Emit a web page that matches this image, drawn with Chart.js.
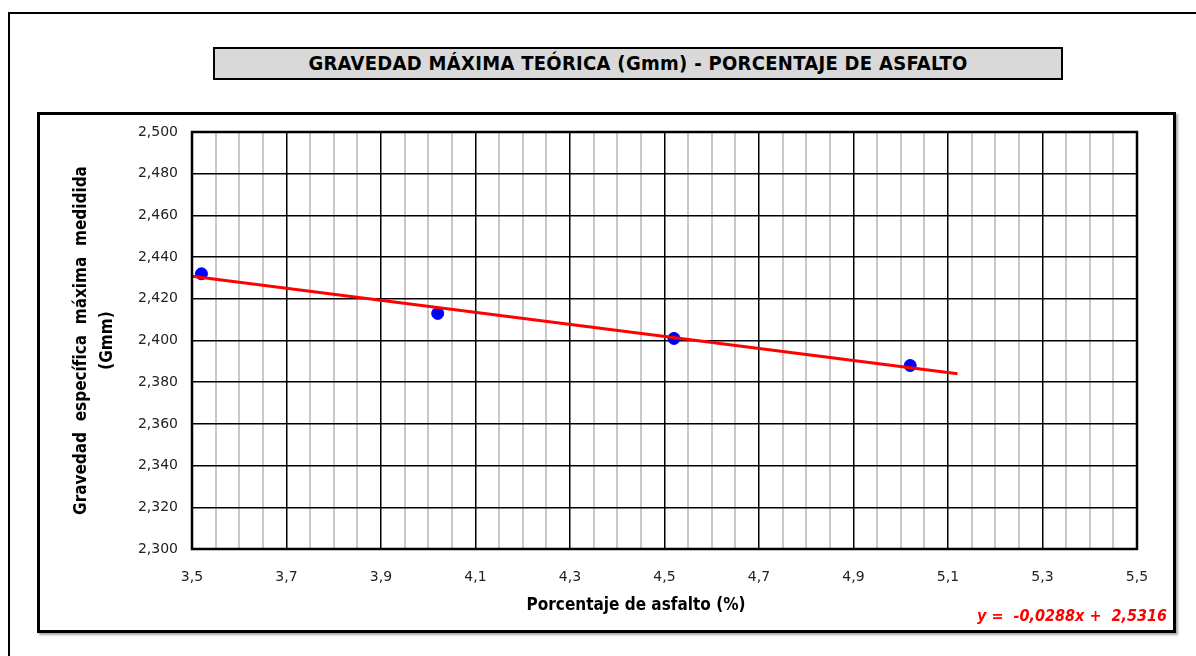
<!DOCTYPE html>
<html lang="es">
<head>
    <meta charset="UTF-8">
    <title>Gmm - Porcentaje de asfalto</title>
    <style>
        body {
            margin: 0;
            background: #fff;
            font-family: 'DejaVu Sans Condensed', 'DejaVu Sans', sans-serif;
        }
        #page {
            position: relative;
            width: 1196px;
            height: 656px;
            overflow: hidden;
        }
        .outer {
            position: absolute;
            left: 8px;
            top: 12px;
            width: 1300px;
            height: 800px;
            border: 2px solid #000;
        }
        .inner {
            position: absolute;
            left: 37px;
            top: 112px;
            width: 1133px;
            height: 515px;
            border: 3px solid #000;
            box-shadow: 2px 2px 2px #aaa;
        }
        .title-box {
            position: absolute;
            left: 213px;
            top: 47px;
            width: 846px;
            height: 29px;
            background: #d9d9d9;
            border: 2px solid #000;
            text-align: center;
            line-height: 29px;
            font-weight: bold;
            font-size: 20px;
            letter-spacing: 0.3px;
            color: #000;
        }
        .x-title {
            position: absolute;
            left: 436px;
            width: 400px;
            top: 594px;
            text-align: center;
            font-weight: bold;
            font-size: 17px;
        }
        .equation {
            position: absolute;
            right: 29px;
            top: 606px;
            color: #ff0000;
            font-weight: bold;
            font-style: italic;
            font-size: 16px;
        }
        canvas {
            position: absolute;
            left: 0;
            top: 0;
        }
    </style>
</head>
<body>
<div id="page">
    <div class="outer"></div>
    <div class="inner"></div>
    <div class="title-box">GRAVEDAD MÁXIMA TEÓRICA (Gmm) - PORCENTAJE DE ASFALTO</div>
    <canvas id="gmmChart" width="1196" height="656"></canvas>
    <div class="x-title">Porcentaje de asfalto (%)</div>
    <div class="equation">y = &nbsp;-0,0288x + &nbsp;2,5316</div>
</div>

<script src="https://cdn.jsdelivr.net/npm/chart.js"></script>
<script>
    // datos
    const asfalto = [3.52, 4.02, 4.52, 5.02];
    const gmm = [2.432, 2.413, 2.401, 2.388];

    // linea de tendencia (extremos)
    const trendX = [3.5, 5.12];
    const trendY = [2.4308, 2.3841];

    const xMin = 3.5, xMax = 5.5, xStep = 0.05;
    const yMin = 2.3, yMax = 2.5, yStep = 0.02;

    function isMajor(v) {
        return Math.round((v - xMin) / xStep) % 4 === 0;
    }

    // borde del area de trazado
    const plotBorder = {
        id: 'plotBorder',
        afterDraw(chart) {
            const a = chart.chartArea;
            const ctx = chart.ctx;
            ctx.save();
            ctx.strokeStyle = '#000';
            ctx.lineWidth = 2.5;
            ctx.strokeRect(a.left, a.top, a.right - a.left, a.bottom - a.top);
            ctx.restore();
        }
    };

    const ctx = document.getElementById('gmmChart').getContext('2d');
    new Chart(ctx, {
        type: 'scatter',
        data: {
            datasets: [{
                label: 'Tendencia',
                data: trendX.map((x, i) => ({ x: x, y: trendY[i] })),
                showLine: true,
                borderColor: '#ff0000',
                borderWidth: 3,
                pointRadius: 0,
                order: 0
            }, {
                label: 'Gmm',
                data: asfalto.map((x, i) => ({ x: x, y: gmm[i] })),
                backgroundColor: '#0000ff',
                borderColor: '#0000ff',
                pointRadius: 6,
                order: 1
            }]
        },
        options: {
            responsive: false,
            animation: false,
            layout: {
                padding: { left: 40, top: 132, right: 59, bottom: 0 }
            },
            plugins: {
                legend: { display: false },
                tooltip: { enabled: false }
            },
            scales: {
                x: {
                    type: 'linear',
                    min: xMin,
                    max: xMax,
                    afterFit(scale) { scale.height = 107; },
                    border: { display: false },
                    grid: {
                        drawTicks: false,
                        color: c => isMajor(c.tick.value) ? '#000' : '#c8c8c8',
                        lineWidth: c => isMajor(c.tick.value) ? 1.5 : 2
                    },
                    ticks: {
                        stepSize: xStep,
                        autoSkip: false,
                        maxRotation: 0,
                        padding: 20,
                        color: '#222',
                        font: { family: 'DejaVu Sans', size: 14 },
                        callback: v => isMajor(v) ? v.toFixed(1).replace('.', ',') : ''
                    }
                },
                y: {
                    type: 'linear',
                    min: yMin,
                    max: yMax,
                    afterFit(scale) { scale.width = 152; },
                    border: { display: false },
                    grid: {
                        drawTicks: false,
                        color: '#000',
                        lineWidth: 1.5
                    },
                    ticks: {
                        stepSize: yStep,
                        padding: 14,
                        color: '#222',
                        font: { family: 'DejaVu Sans', size: 14 },
                        callback: v => v.toFixed(3).replace('.', ',')
                    },
                    title: {
                        display: true,
                        text: ['Gravedad  específica  máxima  medidida', '(Gmm)'],
                        color: '#000',
                        padding: { top: 29, bottom: 0 },
                        font: { family: 'DejaVu Sans Condensed', size: 17, weight: 'bold', lineHeight: 1.5 }
                    }
                }
            }
        },
        plugins: [plotBorder]
    });
</script>
</body>
</html>
